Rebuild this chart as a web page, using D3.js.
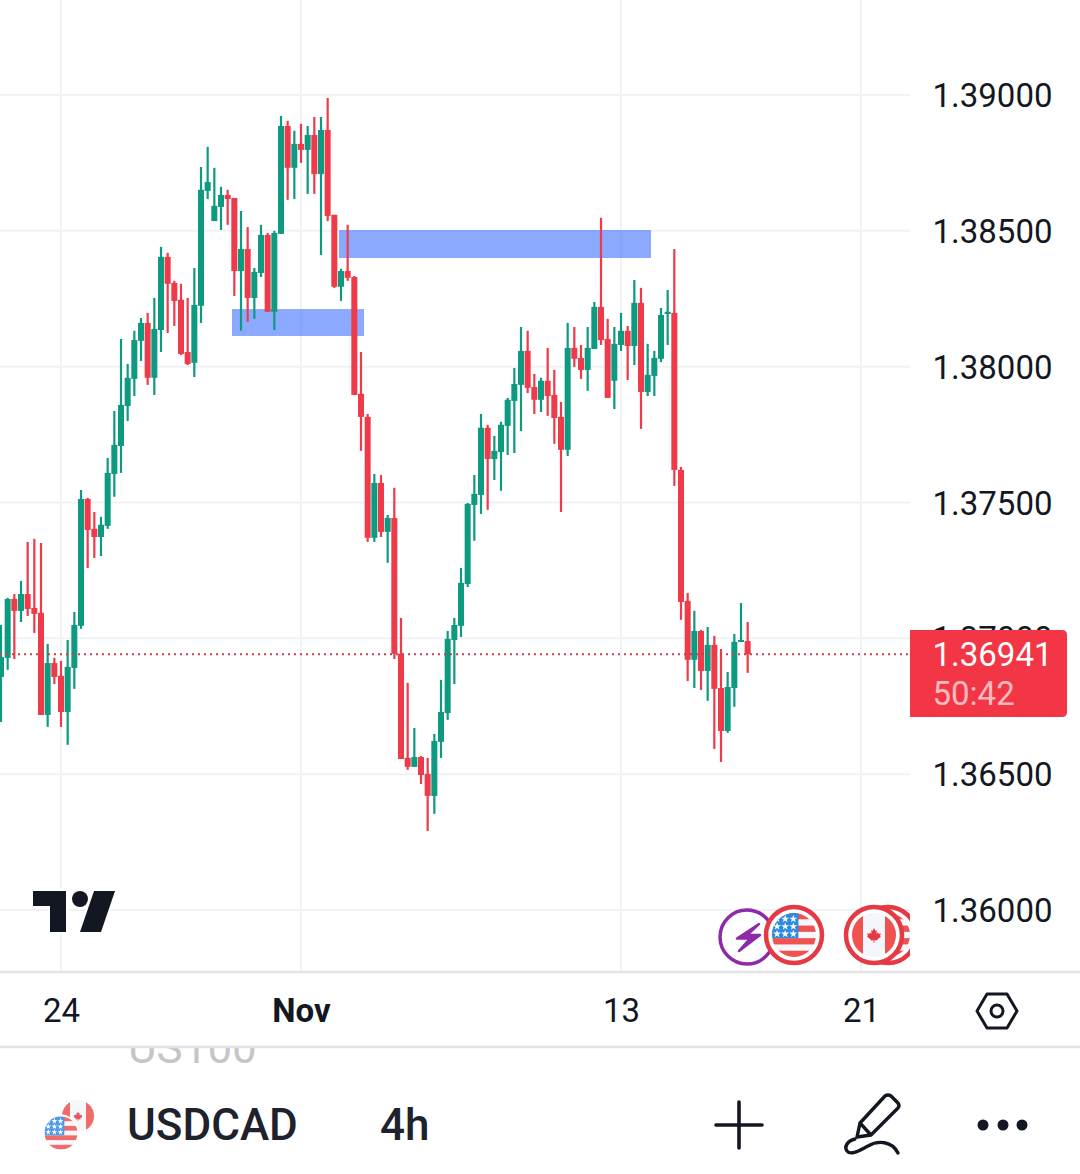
<!DOCTYPE html>
<html>
<head>
<meta charset="utf-8">
<title>USDCAD 4h</title>
<script src="https://cdn.jsdelivr.net/npm/d3@7/dist/d3.min.js"></script>
<style>
html,body{margin:0;padding:0;background:#fff;overflow:hidden}
svg{display:block}
text{font-family:Roboto,"Noto Sans",sans-serif;fill:#131722}
</style>
</head>
<body>
<svg id="chart" width="1080" height="1174" viewBox="0 0 1080 1174"></svg>
<script>
// USDCAD 4h candles. The first candle sits nine bars before the "24" tick.
const firstBar = -9;
const openPrices = [
1.36858,1.36928,1.37145,1.37101,1.37163,1.37112,1.37094,1.36718,1.36909,1.36862,
1.36729,1.36891,1.37046,1.37513,1.37403,1.37373,1.37414,1.37605,1.37708,1.37855,
1.37955,1.38095,1.38161,1.37959,1.38135,1.38404,1.38308,1.38246,1.38054,1.38014,
1.38224,1.38647,1.38536,1.38588,1.38632,1.38621,1.38352,1.38433,1.38253,1.38345,
1.38485,1.38202,1.38489,1.38886,1.38732,1.38820,1.38798,1.38853,1.38709,1.38871,
1.38559,1.38294,1.38352,1.38330,1.37900,1.37815,1.37370,1.37572,1.37392,1.37443,
1.36943,1.36560,1.36527,1.36563,1.36501,1.36420,1.36619,1.36725,1.36994,1.37046,
1.37200,1.37491,1.37528,1.37775,1.37660,1.37686,1.37782,1.37874,1.37933,1.38058,
1.37925,1.37878,1.37948,1.37896,1.37815,1.37694,1.38069,1.38032,1.37988,1.38065,
1.38220,1.38102,1.37948,1.38080,1.38132,1.38076,1.38235,1.37907,1.37966,1.38029,
1.38194,1.38198,1.37620,1.37138,1.36921,1.37027,1.36880,1.36976,1.36817,1.36659,
1.36817,1.36987,1.36990];
const highPrices = [
1.37049,1.37149,1.37163,1.37211,1.37355,1.37366,1.37351,1.36979,1.36928,1.36917,
1.36994,1.37097,1.37546,1.37517,1.37465,1.37447,1.37664,1.37837,1.38102,1.38010,
1.38132,1.38179,1.38198,1.38253,1.38441,1.38419,1.38316,1.38305,1.38253,1.38363,
1.38735,1.38809,1.38732,1.38662,1.38651,1.38621,1.38573,1.38514,1.38363,1.38522,
1.38492,1.38500,1.38923,1.38905,1.38868,1.38894,1.38886,1.38919,1.38919,1.38989,
1.38559,1.38360,1.38522,1.38334,1.38054,1.37826,1.37605,1.37601,1.37454,1.37554,
1.37075,1.36836,1.36670,1.36567,1.36560,1.36648,1.36847,1.37027,1.37075,1.37259,
1.37498,1.37601,1.37826,1.37786,1.37745,1.37797,1.37885,1.37995,1.38146,1.38132,
1.37973,1.37959,1.38069,1.37988,1.37870,1.38161,1.38146,1.38080,1.38146,1.38238,
1.38548,1.38176,1.38146,1.38198,1.38150,1.38319,1.38290,1.38084,1.38058,1.38216,
1.38282,1.38433,1.37631,1.37167,1.37101,1.37031,1.37042,1.37009,1.36961,1.36876,
1.37016,1.37130,1.37060];
const lowPrices = [
1.36692,1.36884,1.36924,1.37060,1.37082,1.37020,1.36718,1.36674,1.36832,1.36674,
1.36608,1.36814,1.37035,1.37259,1.37296,1.37303,1.37403,1.37521,1.37609,1.37800,
1.37892,1.38021,1.37933,1.37896,1.38054,1.38124,1.38150,1.38043,1.38006,1.37962,
1.38161,1.38617,1.38536,1.38503,1.38522,1.38260,1.38132,1.38165,1.38176,1.38330,
1.38202,1.38135,1.38489,1.38614,1.38617,1.38750,1.38636,1.38636,1.38411,1.38536,
1.38290,1.38242,1.38316,1.37896,1.37690,1.37355,1.37355,1.37373,1.37278,1.36924,
1.36556,1.36516,1.36527,1.36464,1.36291,1.36354,1.36560,1.36700,1.36832,1.37005,
1.37189,1.37359,1.37458,1.37473,1.37583,1.37543,1.37675,1.37682,1.37763,1.37903,
1.37826,1.37833,1.37819,1.37716,1.37465,1.37671,1.37999,1.37955,1.37911,1.38065,
1.38080,1.37885,1.37844,1.38058,1.37951,1.38006,1.37771,1.37892,1.37892,1.38017,
1.38080,1.37561,1.37068,1.36843,1.36817,1.36810,1.36770,1.36593,1.36545,1.36652,
1.36748,1.36987,1.36873];
const closePrices = [
1.36931,1.37145,1.37101,1.37163,1.37108,1.37090,1.36718,1.36909,1.36858,1.36729,
1.36895,1.37049,1.37513,1.37399,1.37373,1.37418,1.37609,1.37712,1.37859,1.37959,
1.38098,1.38161,1.37959,1.38139,1.38404,1.38305,1.38242,1.38047,1.38010,1.38227,
1.38651,1.38680,1.38592,1.38632,1.38617,1.38352,1.38433,1.38253,1.38349,1.38485,
1.38202,1.38492,1.38886,1.38732,1.38820,1.38798,1.38853,1.38709,1.38871,1.38555,
1.38294,1.38352,1.38327,1.37896,1.37815,1.37370,1.37572,1.37392,1.37443,1.36943,
1.36556,1.36527,1.36563,1.36497,1.36420,1.36622,1.36729,1.36998,1.37049,1.37204,
1.37495,1.37532,1.37775,1.37660,1.37690,1.37786,1.37878,1.37936,1.38058,1.37922,
1.37878,1.37948,1.37892,1.37811,1.37694,1.38069,1.38029,1.37988,1.38069,1.38220,
1.38098,1.37885,1.38084,1.38132,1.38076,1.38235,1.37907,1.37970,1.38032,1.38190,
1.38202,1.37620,1.37134,1.36921,1.37027,1.36880,1.36976,1.36814,1.36659,1.36821,
1.36987,1.36994,1.36941];

const priceTicks = [1.36,1.365,1.37,1.375,1.38,1.385,1.39];
const timeTickBars = [0,36,84,120];
const timeTickLabels = ["24","Nov","13","21"];
const lastPrice = 1.36941;
const countdown = "50:42";
const symbol = "USDCAD";
const interval = "4h";

// Supply and demand zones as bar range and price range.
const zoneStart = [25.65,41.7];
const zoneEnd = [45.45,88.5];
const zoneTop = [1.38212,1.38503];
const zoneBottom = [1.38113,1.38400];

const upColor = "#0d9a81", downColor = "#ef3a4a", gridColor = "#f1f2f5", borderColor = "#e2e3e8", ink = "#131722";
const paneRight = 910, paneBottom = 972;
const candleWidth = 6, wickWidth = 2.2;

const x = d3.scaleLinear().domain([0,36]).range([61,301]);
const y = d3.scaleLinear().domain([1.36,1.39]).range([910,95]);

const candles = openPrices.map((open,i)=>({
  bar:firstBar+i, open, high:highPrices[i], low:lowPrices[i], close:closePrices[i]
}));
const zones = zoneStart.map((s,i)=>({s, e:zoneEnd[i], top:zoneTop[i], bottom:zoneBottom[i]}));

const svg = d3.select("#chart");
const defs = svg.append("defs");
defs.append("clipPath").attr("id","pane").append("rect")
  .attr("x",0).attr("y",0).attr("width",paneRight).attr("height",paneBottom);
defs.append("clipPath").attr("id","ghost").append("rect")
  .attr("x",0).attr("y",1048).attr("width",1080).attr("height",40);

// Grid
const pane = svg.append("g").attr("clip-path","url(#pane)");
pane.append("g").selectAll("line").data(priceTicks).join("line")
  .attr("x1",0).attr("x2",paneRight).attr("y1",d=>y(d)).attr("y2",d=>y(d))
  .attr("stroke",gridColor).attr("stroke-width",2);
pane.append("g").selectAll("line").data(timeTickBars).join("line")
  .attr("x1",d=>x(d)).attr("x2",d=>x(d)).attr("y1",0).attr("y2",paneBottom)
  .attr("stroke",gridColor).attr("stroke-width",2);

// Zones sit under the candles
pane.append("g").selectAll("rect").data(zones).join("rect")
  .attr("x",d=>x(d.s)).attr("width",d=>x(d.e)-x(d.s))
  .attr("y",d=>y(d.top)).attr("height",d=>y(d.bottom)-y(d.top))
  .attr("fill","#2962ff").attr("fill-opacity",0.55);

// Candles
const candleG = pane.append("g").selectAll("g").data(candles).join("g")
  .attr("fill",d=>d.close>=d.open?upColor:downColor);
candleG.append("rect")
  .attr("x",d=>x(d.bar)-wickWidth/2).attr("width",wickWidth)
  .attr("y",d=>y(d.high)).attr("height",d=>y(d.low)-y(d.high));
candleG.append("rect")
  .attr("x",d=>x(d.bar)-candleWidth/2).attr("width",candleWidth)
  .attr("y",d=>y(Math.max(d.open,d.close)))
  .attr("height",d=>Math.max(2,Math.abs(y(d.open)-y(d.close))));

// Last price line
pane.append("line")
  .attr("x1",0).attr("x2",paneRight).attr("y1",y(lastPrice)).attr("y2",y(lastPrice))
  .attr("stroke","#c8404e").attr("stroke-width",2).attr("stroke-dasharray","2 4");

// TradingView mark
const logo = svg.append("g").attr("fill",ink).attr("stroke","#fff").attr("stroke-width",5)
  .attr("paint-order","stroke").attr("stroke-linejoin","round");
logo.append("path").attr("d","M33,891H66V932H50V906H33Z");
logo.append("circle").attr("cx",80).attr("cy",899).attr("r",8);
logo.append("path").attr("d","M94,891H115L101,932H80Z");

// Event badges along the bottom of the pane
const flagRed = "#ef5350", badgeRed = "#e53944";
function usFlag(g,cx,cy,r,id){
  defs.append("clipPath").attr("id",id).append("circle").attr("cx",cx).attr("cy",cy).attr("r",r);
  const f = g.append("g").attr("clip-path",`url(#${id})`);
  f.append("rect").attr("x",cx-r).attr("y",cy-r).attr("width",2*r).attr("height",2*r).attr("fill","#f6f7fb");
  const band = 2*r/7;
  [0,2,4,6].forEach(k=>f.append("rect").attr("x",cx-r).attr("y",cy-r+k*band).attr("width",2*r).attr("height",band).attr("fill",flagRed));
  f.append("rect").attr("x",cx-r).attr("y",cy-r).attr("width",r*1.2).attr("height",band*4).attr("fill","#2c8ae0");
  const star = d3.symbol().type(d3.symbolStar).size(r*r*0.04);
  [0,1,2].forEach(row=>[0,1,2].forEach(col=>{
    f.append("path").attr("d",star())
      .attr("transform",`translate(${cx-r*0.77+col*r*0.37},${cy-r*0.73+row*r*0.34})`)
      .attr("fill","#fff");
  }));
}
function caFlag(g,cx,cy,r,id,leafScale){
  defs.append("clipPath").attr("id",id).append("circle").attr("cx",cx).attr("cy",cy).attr("r",r);
  const f = g.append("g").attr("clip-path",`url(#${id})`);
  f.append("rect").attr("x",cx-r).attr("y",cy-r).attr("width",2*r).attr("height",2*r).attr("fill","#f5f6fb");
  f.append("rect").attr("x",cx-r).attr("y",cy-r).attr("width",r*0.5).attr("height",2*r).attr("fill",flagRed);
  f.append("rect").attr("x",cx+r*0.5).attr("y",cy-r).attr("width",r*0.5).attr("height",2*r).attr("fill",flagRed);
  f.append("path").attr("fill",badgeRed).attr("transform",`translate(${cx},${cy}) scale(${leafScale})`)
    .attr("d","M0,-7L1.6,-4L3,-4.8L2.4,-1.2L4,-2.6L4.6,-1.2L7,-1.6L6,1L7,1.8L3.2,4.4L3.6,5.6L.4,5.2L.4,8H-.4L-.4,5.2L-3.6,5.6L-3.2,4.4L-7,1.8L-6,1L-7,-1.6L-4.6,-1.2L-4,-2.6L-2.4,-1.2L-3,-4.8L-1.6,-4Z");
}
function badgeRing(g,cx,cy){
  g.append("circle").attr("cx",cx).attr("cy",cy).attr("r",28).attr("fill","#fff").attr("stroke",badgeRed).attr("stroke-width",4.5);
}
const badges = svg.append("g").attr("clip-path","url(#pane)");
badges.append("circle").attr("cx",747).attr("cy",937).attr("r",27).attr("fill","#fff").attr("stroke","#8e2aa8").attr("stroke-width",3.5);
badges.append("path").attr("d","M759,924L737,938.5H750L739,951L760,935H747Z").attr("fill","#8e2aa8").attr("stroke","#8e2aa8").attr("stroke-width",2.5).attr("stroke-linejoin","round");
badgeRing(badges,794,935);
usFlag(badges,794,935,22,"us1");
badgeRing(badges,888,935);
usFlag(badges,888,935,22,"us2");
badgeRing(badges,874,935);
caFlag(badges,874,935,22,"ca1",1);

// Right price scale; the 1.37000 label runs underneath the last-price tag
const priceAxis = svg.append("g").attr("transform","translate(932.5,0)")
  .call(d3.axisRight(y).tickValues(priceTicks).tickSize(0).tickPadding(0).tickFormat(d3.format(".5f")));
priceAxis.select(".domain").remove();
priceAxis.selectAll("text").attr("x",0).attr("dy",0)
  .attr("dominant-baseline","auto").attr("transform","translate(0,11.5)")
  .style("font-size","33px").style("font-family","Roboto").style("fill",ink);

// Last-price tag
const tagTop = 630, tagBottom = 717, tagRight = 1067, r = 5;
svg.append("path").attr("fill","#f23645")
  .attr("d",`M${paneRight},${tagTop}H${tagRight-r}Q${tagRight},${tagTop} ${tagRight},${tagTop+r}V${tagBottom-r}Q${tagRight},${tagBottom} ${tagRight-r},${tagBottom}H${paneRight}Z`);
svg.append("text").attr("x",932.5).attr("y",666).text(d3.format(".5f")(lastPrice))
  .style("font-size","33px").style("fill","#fff");
svg.append("text").attr("x",932.5).attr("y",705).text(countdown)
  .style("font-size","33px").style("fill","#fff").style("fill-opacity",0.68);

// Time scale
const timeAxis = svg.append("g").attr("transform",`translate(0,${paneBottom})`)
  .call(d3.axisBottom(x).tickValues(timeTickBars).tickSize(0).tickPadding(0)
    .tickFormat((d,i)=>timeTickLabels[i]));
timeAxis.select(".domain").remove();
timeAxis.selectAll("text").attr("y",50).attr("dy",0)
  .style("font-size","33px").style("font-family","Roboto").style("fill",ink)
  .style("font-weight",d=>d===36?"700":"400");

// Scrolled-away list item peeking under the toolbar edge
svg.append("text").attr("x",128).attr("y",1063).attr("clip-path","url(#ghost)").text("US100")
  .style("font-size","44px").style("fill","#c4c5c9");

svg.append("line").attr("x1",0).attr("x2",1080).attr("y1",972).attr("y2",972).attr("stroke",borderColor).attr("stroke-width",2.5);
svg.append("line").attr("x1",0).attr("x2",1080).attr("y1",1047).attr("y2",1047).attr("stroke",borderColor).attr("stroke-width",2.5);

// Settings hexagon
const hex = svg.append("g").attr("fill","none").attr("stroke",ink).attr("stroke-width",3).attr("stroke-linejoin","round");
hex.append("path").attr("d","M977,1011L987,994H1007L1017,1011L1007,1028H987Z");
hex.append("circle").attr("cx",997).attr("cy",1011).attr("r",6);

// Toolbar: symbol, interval, tools
const chip = svg.append("g").attr("opacity",0.85);
caFlag(chip,78,1116,16,"ca2",0.62);
chip.append("circle").attr("cx",61).attr("cy",1133).attr("r",18.5).attr("fill","#fff");
usFlag(chip,61,1133,16.5,"us3");

svg.append("text").attr("x",127).attr("y",1140).text(symbol).style("font-size","44px").style("font-weight",500).style("fill","#1e222d");
svg.append("text").attr("x",380).attr("y",1140).text(interval).style("font-size","44px").style("font-weight",500).style("fill","#1e222d");

const tools = svg.append("g").attr("fill","none").attr("stroke",ink).attr("stroke-linecap","round").attr("stroke-linejoin","round");
tools.append("path").attr("d","M716,1125H762M739,1102V1148").attr("stroke-width",3.6);
tools.append("path").attr("stroke-width",3.4)
  .attr("d","M860,1123L885,1096Q888,1094 891,1096L898,1103Q900,1106 898,1108L871,1135L857,1137ZM860,1123L871,1135");
tools.append("path").attr("stroke-width",3.4)
  .attr("d","M855,1139C847,1141 844,1147 847,1151C851,1156 860,1150 868,1146C878,1140 892,1141 898,1153");
svg.append("g").attr("fill",ink).selectAll("circle").data([983,1003,1022]).join("circle")
  .attr("cx",d=>d).attr("cy",1125).attr("r",5.5);
</script>
</body>
</html>
